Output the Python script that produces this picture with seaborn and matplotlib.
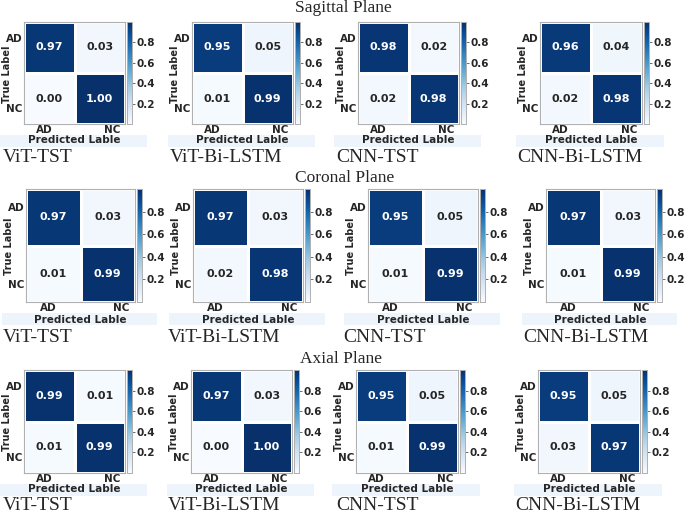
import numpy as np
import matplotlib
matplotlib.use("Agg")
import matplotlib.pyplot as plt
import seaborn as sns
from matplotlib.patches import Rectangle

# ---------------- data ----------------
planes = ["Sagittal Plane", "Coronal Plane", "Axial Plane"]
models = ["ViT-TST", "ViT-Bi-LSTM", "CNN-TST", "CNN-Bi-LSTM"]
class_labels = ["AD", "NC"]

sagittal_vit_tst = [[0.97, 0.03], [0.00, 1.00]]
sagittal_vit_bilstm = [[0.95, 0.05], [0.01, 0.99]]
sagittal_cnn_tst = [[0.98, 0.02], [0.02, 0.98]]
sagittal_cnn_bilstm = [[0.96, 0.04], [0.02, 0.98]]

coronal_vit_tst = [[0.97, 0.03], [0.01, 0.99]]
coronal_vit_bilstm = [[0.97, 0.03], [0.02, 0.98]]
coronal_cnn_tst = [[0.95, 0.05], [0.01, 0.99]]
coronal_cnn_bilstm = [[0.97, 0.03], [0.01, 0.99]]

axial_vit_tst = [[0.99, 0.01], [0.01, 0.99]]
axial_vit_bilstm = [[0.97, 0.03], [0.00, 1.00]]
axial_cnn_tst = [[0.95, 0.05], [0.01, 0.99]]
axial_cnn_bilstm = [[0.95, 0.05], [0.03, 0.97]]

matrices = [
    [sagittal_vit_tst, sagittal_vit_bilstm, sagittal_cnn_tst, sagittal_cnn_bilstm],
    [coronal_vit_tst, coronal_vit_bilstm, coronal_cnn_tst, coronal_cnn_bilstm],
    [axial_vit_tst, axial_vit_bilstm, axial_cnn_tst, axial_cnn_bilstm],
]
cbar_ticks = [0.2, 0.4, 0.6, 0.8]

# ---------------- layout (pixels) ----------------
W, H = 685, 512
col_lr = [
    [(24, 125), (192, 293), (358, 459), (540, 642)],
    [(26, 135), (193, 303), (368, 478), (546, 655)],
    [(24, 125), (191, 292), (356, 458), (538, 640)],
]
row_tb = [(22, 124), (189, 302), (370, 473)]
xlabel_off = [16, 18, 16]
title_y = [8, 178, 359]
title_x = [343, 345, 341]
name_y = [158, 338, 505]
name_x = [[3, 170, 336, 517], [3, 168, 343, 523], [3, 168, 336, 515]]

sns.set_theme(style="white")
plt.rcParams["font.family"] = ["DejaVu Sans"]

fig = plt.figure(figsize=(W / 100, H / 100), dpi=100)
fig.patch.set_facecolor("white")


def fx(x):
    return x / W


def fy(y):
    return 1 - y / H


for r in range(3):
    top, bot = row_tb[r]
    for c in range(4):
        left, right = col_lr[r][c]
        w_px, h_px = right - left, bot - top
        # faint band behind x-axis label
        fig.patches.append(Rectangle((fx(left - 24), fy(bot + 23)), (w_px + 46) / W, 12 / H,
                                     transform=fig.transFigure, facecolor="#eef4fb",
                                     edgecolor="none", zorder=-5))
        ax = fig.add_axes([fx(left), fy(bot), w_px / W, h_px / H])
        cax = fig.add_axes([fx(right + 2), fy(bot), 5 / W, h_px / H])
        data = np.array(matrices[r][c])
        sns.heatmap(data, ax=ax, cbar_ax=cax, cmap="Blues", vmin=0, vmax=1,
                    annot=True, fmt=".2f", linewidths=0.8, linecolor="white",
                    annot_kws={"fontsize": 8, "fontweight": "bold"})
        for sp in ax.spines.values():
            sp.set_visible(True)
            sp.set_color("#b0b0b0")
            sp.set_linewidth(0.8)
        ax.set_xticks([0.4, 1.75])
        ax.set_xticklabels(class_labels, fontsize=7.5, fontweight="bold", rotation=0)
        ax.set_yticks([0.33, 1.7])
        ax.set_yticklabels(class_labels, fontsize=7.5, fontweight="bold", rotation=0)
        ax.tick_params(axis="both", length=0, pad=1)
        ax.set_xlabel("Predicted Lable", fontsize=7.5, fontweight="bold")
        ax.xaxis.set_label_coords(0.5, -xlabel_off[r] / h_px)
        ax.xaxis.label.set_va("center")
        ax.set_ylabel("True Label", fontsize=7, fontweight="bold")
        ax.yaxis.set_label_coords(-17 / w_px, 0.49)
        ax.yaxis.label.set_va("center")
        cax.set_yticks(cbar_ticks)
        cax.set_yticklabels([f"{t:.1f}" for t in cbar_ticks], fontsize=7.5, fontweight="bold")
        cax.tick_params(axis="y", length=2, width=0.6, pad=1.5, color="#555555")
        for sp in cax.spines.values():
            sp.set_visible(True)
            sp.set_color("#b0b0b0")
            sp.set_linewidth(0.6)
        fig.text(fx(name_x[r][c]), fy(name_y[r]), models[c], fontsize=14,
                 family="Liberation Serif", ha="left", va="center")
    fig.text(fx(title_x[r]), fy(title_y[r]), planes[r], fontsize=12.5,
             family="Liberation Serif", ha="center", va="center")

fig.savefig("out.png", dpi=100, facecolor="white")
